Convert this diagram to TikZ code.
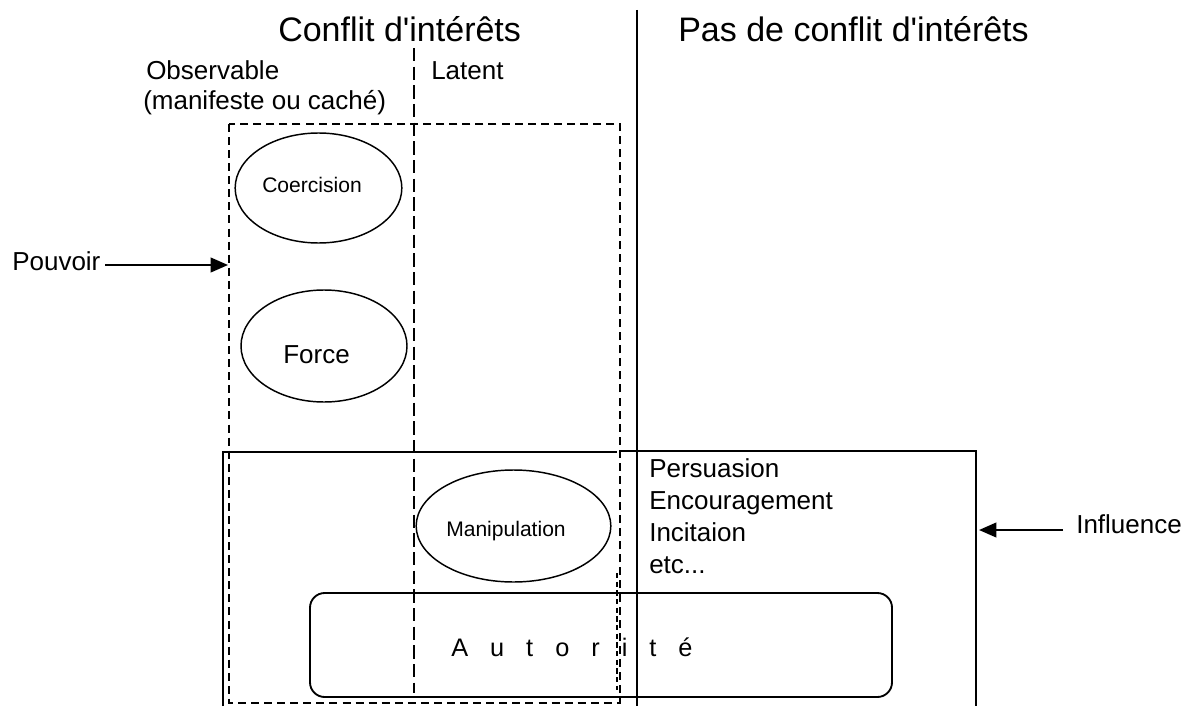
\documentclass[tikz,border=0pt]{standalone}
\usepackage{fontspec}
\setmainfont{Liberation Sans}
\usetikzlibrary{arrows.meta,shapes.geometric}
\begin{document}
\begin{tikzpicture}[x=0.75pt,y=-0.75pt,
  big/.style={inner sep=0pt,anchor=base west,font=\fontsize{25.5}{30}\selectfont},
  mid/.style={inner sep=0pt,anchor=base west,font=\fontsize{19.5}{23}\selectfont},
  small/.style={inner sep=0pt,anchor=base west,font=\fontsize{15.8}{19}\selectfont},
  ell/.style={draw,ellipse,line width=1.1pt,inner sep=0pt},
  solid line/.style={line width=1.4pt},
  dashbox/.style={line width=1.2pt,dash pattern=on 6pt off 3.8pt},
  dashsep/.style={line width=1.2pt,dash pattern=on 10pt off 4pt},
  dashthin/.style={line width=0.8pt,dash pattern=on 4pt off 2.5pt},
  arr/.style={line width=1.5pt,-{Triangle[length=13pt,width=11pt]}}]
\useasboundingbox (0,0) rectangle (1187,706);

% titles
\node[big] (t1) at (278,42) {Conflit d\textquotesingle intérêts};
\node[big] (t2) at (678,42) {Pas de conflit d\textquotesingle intérêts};
\node[mid] (obs) at (146,80) {Observable};
\node[mid] (man) at (143,110) {(manifeste ou caché)};
\node[mid] (lat) at (431,80) {Latent};

% separators
\coordinate (s1) at (637,10);
\coordinate (s2) at (637,706);
\draw[solid line] (s1) -- (s2);
\coordinate (d1) at (414,48);
\coordinate (d2) at (414,693);
\draw[dashsep] (d1) -- (d2);

% pouvoir dashed box
\coordinate (pw1) at (229,124);
\coordinate (pw2) at (620,703);
\draw[dashbox] (pw1) rectangle (pw2);

% influence boxes
\coordinate (i1) at (223,706);
\coordinate (i2) at (223,452);
\coordinate (i3) at (617,452);
\draw[solid line] (i1) -- (i2) -- (i3);
\coordinate (j1) at (621,451);
\coordinate (j2) at (976,451);
\coordinate (j3) at (976,706);
\draw[solid line] (j1) -- (j2) -- (j3);
\coordinate (k1) at (617,573);
\coordinate (k2) at (617,690);
\draw[dashthin] (k1) -- (k2);

% ellipses
\node[ell,minimum width=125pt,minimum height=82.5pt] (coe) at (318.5,188) {};
\node[small] (coet) at (262,192) {Coercision};
\node[ell,minimum width=124.5pt,minimum height=84pt] (for) at (324,346) {};
\node[mid] (fort) at (283,363) {Force};
\node[ell,minimum width=146pt,minimum height=84pt] (mani) at (513.5,526) {};
\node[small] (manit) at (446,536) {Manipulation};

% autorite
\node[draw,line width=1.4pt,rounded corners=11pt,minimum width=436.5pt,minimum height=78pt,inner sep=0pt] (aut) at (601,645) {};
\node[inner sep=0pt,anchor=base west,font=\fontsize{19}{23}\selectfont] (autt) at (451,656) {\spaceskip=16.5pt A u t o r i t é};

% influence list
\node[mid] (l1) at (649,477) {Persuasion};
\node[mid] (l2) at (649,509) {Encouragement};
\node[mid] (l3) at (649,541) {Incitaion};
\node[mid] (l4) at (649,573) {etc...};

% arrows
\node[mid] (pouv) at (12,270) {Pouvoir};
\coordinate (pa) at (105,265);
\coordinate (pb) at (228,265);
\draw[arr] (pa) -- (pb);
\node[mid] (infl) at (1076,533) {Influence};
\coordinate (ia) at (1063,530);
\coordinate (ib) at (979,530);
\draw[arr] (ia) -- (ib);
\end{tikzpicture}
\end{document}
